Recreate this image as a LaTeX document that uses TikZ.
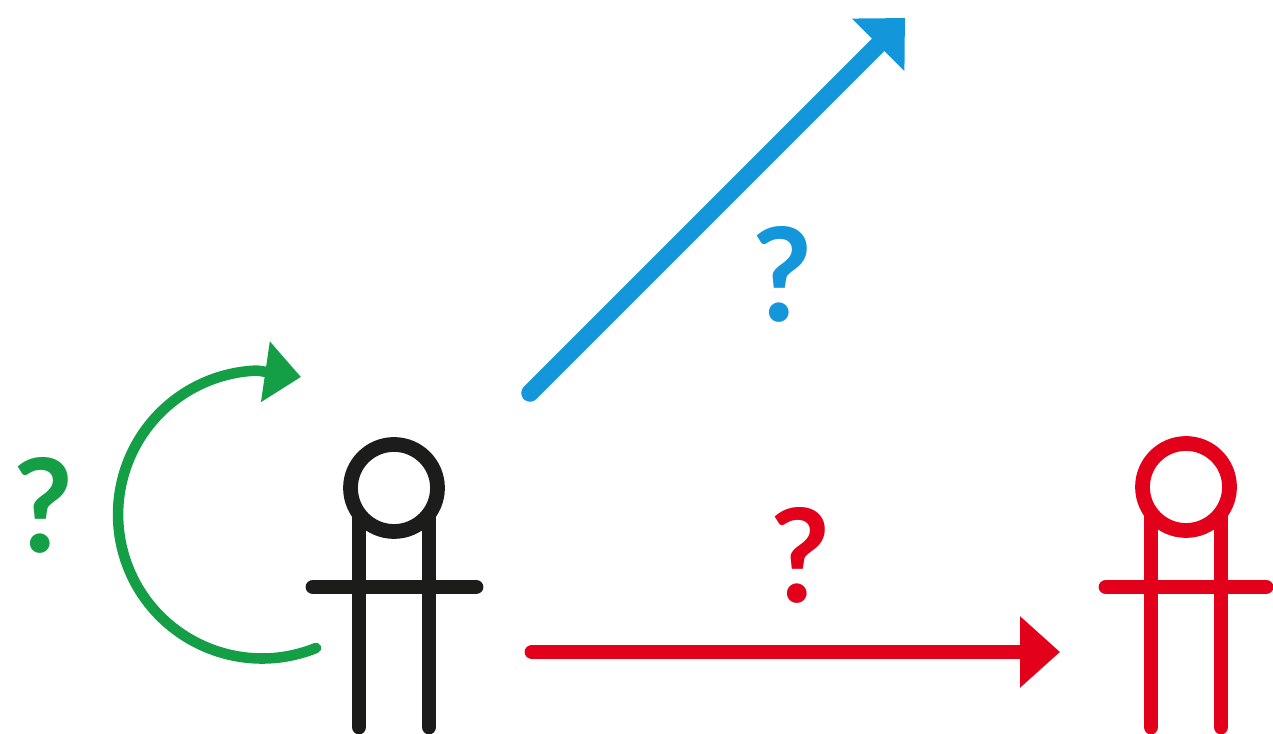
\documentclass[tikz,border=0pt]{standalone}
\usepackage{fontspec}
\setmainfont{Lato}
\usetikzlibrary{arrows.meta}
\definecolor{ledred}{RGB}{226,0,26}
\definecolor{ledblue}{RGB}{20,150,218}
\definecolor{ledgreen}{RGB}{20,158,70}
\definecolor{ledblack}{RGB}{28,28,26}
\tikzset{
  limb/.style={line width=4.2pt, line cap=round},
  qmark/.style={inner sep=0pt, font=\fontsize{37}{37}\selectfont\bfseries},
}
\begin{document}
\begin{tikzpicture}[x=1cm,y=1cm]
  \useasboundingbox (0,0) rectangle (12.73,7.34);
  % schwarze Figur
  \draw[limb, ledblack] (3.59,0.07) -- (3.59,2.2);
  \draw[limb, ledblack] (4.29,0.07) -- (4.29,2.2);
  \draw[limb, ledblack] (3.13,1.47) -- (4.76,1.47);
  \node[draw=ledblack, line width=4.2pt, circle, minimum size=0.87cm, inner sep=0pt] (head1) at (3.94,2.46) {};
  % rote Figur
  \draw[limb, ledred] (11.51,0.07) -- (11.51,2.2);
  \draw[limb, ledred] (12.21,0.07) -- (12.21,2.2);
  \draw[limb, ledred] (11.06,1.47) -- (12.66,1.47);
  \node[draw=ledred, line width=4.2pt, circle, minimum size=0.87cm, inner sep=0pt] (head2) at (11.86,2.47) {};
  % Pfeile
  \coordinate (bluestart) at (5.30,3.41);
  \coordinate (blueend) at (9.05,7.16);
  \coordinate (redstart) at (5.32,0.82);
  \coordinate (redend) at (10.60,0.82);
  \coordinate (greenstart) at (3.16,0.86);
  \coordinate (greenend) at (3.01,3.57);
  \draw[line width=5pt, line cap=round, ledblue, -{Triangle[length=0.38cm,width=0.72cm]}] (bluestart) -- (blueend);
  \draw[limb, ledred, -{Triangle[length=0.40cm,width=0.69cm]}] (redstart) -- (redend);
  \draw[line width=3pt, line cap=round, ledgreen, -{Triangle[length=0.36cm,width=0.59cm]}] (greenstart) arc[start angle=-68, end angle=-268, radius=1.44cm] -- (greenend);
  % Fragezeichen
  \node[qmark, ledblue] (qblue) at (7.82,4.60) {?};
  \node[qmark, ledred] (qred) at (8.00,1.79) {?};
  \node[qmark, ledgreen] (qgreen) at (0.43,2.29) {?};
\end{tikzpicture}
\end{document}
